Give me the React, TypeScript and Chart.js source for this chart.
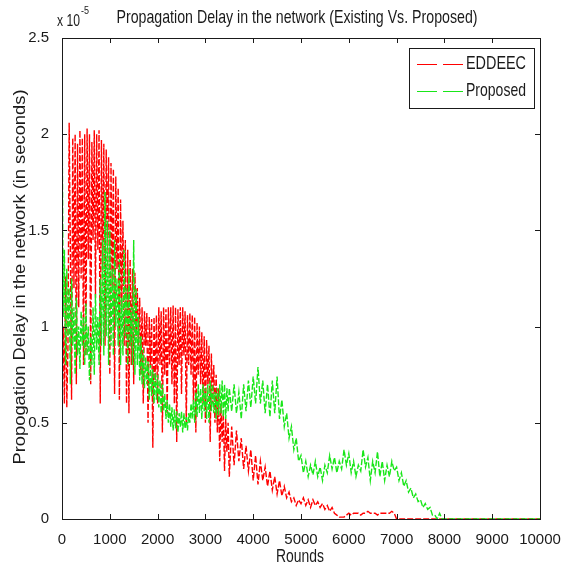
import { useEffect, useRef } from "react";
import { Chart, registerables } from "chart.js";

Chart.register(...registerables);

// ---------- data ----------
// sampling schedule: every 25 rounds up to 3500, then every 50 rounds
const DENSE_STEP = 25;
const DENSE_END = 3500;
const SPARSE_STEP = 50;
const LAST_ROUND = 10000;
const xTicks = [0, 1000, 2000, 3000, 4000, 5000, 6000, 7000, 8000, 9000, 10000];
const yTicks = [0, 0.5, 1, 1.5, 2, 2.5];
const seriesNames = ["EDDEEC", "Proposed"];
const titleText = "Propagation Delay in the network (Existing Vs. Proposed)";
const xLabelText = "Rounds";
const yLabelText = "Propogation Delay in the network (in seconds)";
const yScaleBase = "x 10";
const yScaleExp = "-5";

// values in units of 1e-5 s
const eddeec = [
  // 0 - 3500 every 25 rounds
  0.62, 1.0, 0.6, 1.26, 0.58, 0.9, 2.06, 1.4, 0.62, 1.98,
  1.2, 2.0, 0.7, 1.95, 1.1, 2.02, 1.25, 1.98, 0.8, 2.0,
  0.85, 2.03, 1.35, 2.0, 0.7, 1.96, 1.45, 2.02, 1.15, 2.0,
  1.4, 2.02, 0.6, 1.97, 1.3, 1.95, 0.9, 1.92, 1.45, 1.88,
  0.75, 1.85, 1.2, 1.82, 0.65, 1.78, 1.3, 1.72, 0.62, 1.66,
  1.1, 1.55, 0.9, 1.45, 0.6, 1.4, 0.55, 1.35, 0.8, 1.3,
  0.7, 1.28, 0.95, 1.2, 0.9, 1.15, 0.75, 1.1, 0.6, 1.08,
  0.9, 1.07, 0.5, 1.05, 0.8, 1.04, 0.37, 1.05, 0.7, 1.06,
  0.6, 1.1, 0.8, 1.08, 0.45, 1.1, 0.75, 1.09, 0.55, 1.1,
  0.8, 1.1, 0.7, 1.11, 0.6, 1.1, 0.4, 1.09, 0.8, 1.1,
  0.65, 1.1, 0.85, 1.08, 0.5, 1.06, 0.8, 1.07, 0.75, 1.06,
  0.6, 1.05, 0.45, 1.02, 0.75, 1.0, 0.7, 0.97, 0.6, 0.95,
  0.5, 0.93, 0.7, 0.9, 0.4, 0.86, 0.6, 0.8, 0.5, 0.75,
  0.45, 0.68, 0.3, 0.6, 0.4, 0.55, 0.25, 0.52, 0.35, 0.5,
  0.22,
  // 3550 - 7000 every 50 rounds
  0.48, 0.28, 0.46, 0.3, 0.42, 0.26, 0.38, 0.25, 0.36, 0.2,
  0.33, 0.18, 0.3, 0.2, 0.27, 0.17, 0.25, 0.15, 0.22, 0.13,
  0.2, 0.12, 0.17, 0.11, 0.14, 0.09, 0.11, 0.07, 0.1, 0.08,
  0.11, 0.07, 0.1, 0.06, 0.1, 0.07, 0.09, 0.06, 0.08, 0.05,
  0.07, 0.04, 0.06, 0.03, 0.02, 0.01, 0.01, 0.01, 0.02, 0.03,
  0.02, 0.03, 0.03, 0.03, 0.02, 0.03, 0.03, 0.04, 0.03, 0.03,
  0.03, 0.02, 0.03, 0.03, 0.03, 0.03, 0.03, 0.04, 0.03, 0,
];

const proposed = [
  // 0 - 3500 every 25 rounds
  2.2, 1.05, 1.4, 0.8, 1.3, 0.95, 1.2, 0.7, 1.25, 0.9,
  1.1, 0.75, 1.15, 0.85, 1.0, 0.78, 1.08, 0.9, 1.05, 0.8,
  1.12, 0.85, 1.0, 0.72, 0.95, 0.8, 1.1, 0.75, 1.17, 0.88,
  1.05, 0.8, 1.25, 0.9, 1.45, 0.85, 1.7, 0.95, 1.55, 0.8,
  1.5, 0.9, 1.3, 0.85, 1.45, 1.0, 1.25, 0.9, 1.35, 0.8,
  1.15, 0.85, 1.4, 0.95, 1.2, 0.8, 1.3, 0.9, 1.1, 0.8,
  1.45, 0.75, 1.2, 0.8, 1.05, 0.72, 0.95, 0.7, 0.88, 0.68,
  0.84, 0.7, 0.82, 0.62, 0.8, 0.64, 0.78, 0.6, 0.76, 0.62,
  0.75, 0.58, 0.72, 0.55, 0.7, 0.56, 0.65, 0.52, 0.62, 0.5,
  0.6, 0.48, 0.58, 0.46, 0.57, 0.47, 0.56, 0.45, 0.55, 0.48,
  0.56, 0.45, 0.55, 0.47, 0.53, 0.46, 0.55, 0.5, 0.6, 0.52,
  0.62, 0.5, 0.66, 0.53, 0.7, 0.55, 0.68, 0.52, 0.7, 0.56,
  0.68, 0.52, 0.7, 0.5, 0.72, 0.56, 0.7, 0.55, 0.66, 0.52,
  0.68, 0.54, 0.7, 0.55, 0.72, 0.53, 0.7, 0.52, 0.68, 0.56,
  0.68,
  // 3550 - 8000 every 50 rounds
  0.56, 0.7, 0.55, 0.66, 0.52, 0.7, 0.56, 0.72, 0.58, 0.74,
  0.6, 0.79, 0.6, 0.72, 0.55, 0.7, 0.53, 0.72, 0.55, 0.74,
  0.52, 0.62, 0.48, 0.55, 0.42, 0.48, 0.36, 0.42, 0.3, 0.33,
  0.24, 0.3, 0.22, 0.28, 0.23, 0.3, 0.22, 0.27, 0.2, 0.28,
  0.24, 0.33, 0.26, 0.32, 0.24, 0.3, 0.26, 0.36, 0.28, 0.34,
  0.24, 0.3, 0.22, 0.28, 0.25, 0.36, 0.27, 0.32, 0.2, 0.3,
  0.24, 0.35, 0.22, 0.3, 0.2, 0.28, 0.22, 0.3, 0.25, 0.27,
  0.2, 0.24, 0.17, 0.2, 0.14, 0.16, 0.11, 0.13, 0.09, 0.1,
  0.06, 0.08, 0.05, 0.06, 0.02, 0.02, 0, 0.03, 0, 0,
];

const RED = "#ff0000";
const GREEN = "#19e619";
const INK = "#1a1a1a";
const FONT = "'Liberation Sans', Arial, sans-serif";

function sampleRound(i: number) {
  const denseCount = DENSE_END / DENSE_STEP;
  return i <= denseCount ? i * DENSE_STEP : DENSE_END + (i - denseCount) * SPARSE_STEP;
}

function toPoints(arr: number[]) {
  const pts = arr.map((v, i) => ({ x: sampleRound(i), y: v }));
  // series stays at its last value (zero) until the end of the simulation
  pts.push({ x: LAST_ROUND, y: arr[arr.length - 1] });
  return pts;
}

function drawFitted(
  ctx: CanvasRenderingContext2D,
  text: string,
  x: number,
  y: number,
  size: number,
  width: number,
  align: CanvasTextAlign,
  rotation = 0
) {
  ctx.save();
  ctx.font = `${size}px ${FONT}`;
  const w = ctx.measureText(text).width;
  const sx = width / w;
  ctx.translate(x, y);
  ctx.rotate(rotation);
  ctx.scale(sx, 1);
  ctx.textAlign = align;
  ctx.textBaseline = "middle";
  ctx.fillStyle = INK;
  ctx.fillText(text, 0, 0);
  ctx.restore();
}

const matlabFrame = {
  id: "matlabFrame",
  afterDraw(chart: any) {
    const { ctx, chartArea } = chart;
    const { left, right, top, bottom } = chartArea;
    const xs = chart.scales.x;
    const ys = chart.scales.y;
    ctx.save();
    ctx.strokeStyle = INK;
    ctx.lineWidth = 1;
    ctx.setLineDash([]);
    ctx.strokeRect(Math.round(left) + 0.5, Math.round(top) + 0.5, Math.round(right - left), Math.round(bottom - top));
    ctx.beginPath();
    for (const v of xTicks) {
      const px = Math.round(xs.getPixelForValue(v)) + 0.5;
      ctx.moveTo(px, bottom);
      ctx.lineTo(px, bottom - 5);
      ctx.moveTo(px, top);
      ctx.lineTo(px, top + 5);
    }
    for (const v of yTicks) {
      const py = Math.round(ys.getPixelForValue(v)) + 0.5;
      ctx.moveTo(left, py);
      ctx.lineTo(left + 5, py);
      ctx.moveTo(right, py);
      ctx.lineTo(right - 5, py);
    }
    ctx.stroke();

    // title and axis labels
    drawFitted(ctx, titleText, 297, 18, 19, 361, "center");
    drawFitted(ctx, xLabelText, 300, 557, 18, 48, "center");
    drawFitted(ctx, yLabelText, 20, 277, 17, 375, "center", -Math.PI / 2);
    drawFitted(ctx, yScaleBase, 57, 21, 17, 23, "left");
    drawFitted(ctx, yScaleExp, 81, 11, 11, 8, "left");

    // legend box
    const lx = 409.5, ly = 48.5, lw = 125, lh = 60;
    ctx.fillStyle = "#ffffff";
    ctx.fillRect(lx, ly, lw, lh);
    ctx.strokeStyle = INK;
    ctx.strokeRect(lx, ly, lw, lh);
    const rowsY = [64, 91];
    const colors = [RED, GREEN];
    seriesNames.forEach((name, i) => {
      ctx.save();
      ctx.strokeStyle = colors[i];
      ctx.lineWidth = 1;
      ctx.setLineDash([20, 6]);
      ctx.beginPath();
      ctx.moveTo(417, rowsY[i] + 0.5);
      ctx.lineTo(463, rowsY[i] + 0.5);
      ctx.stroke();
      ctx.restore();
      drawFitted(ctx, name, 466, rowsY[i], 19, 60, "left");
    });
    ctx.restore();
  },
};

export default function App() {
  const ref = useRef<HTMLCanvasElement | null>(null);
  useEffect(() => {
    if (!ref.current) return;
    const chart = new Chart(ref.current, {
      type: "line",
      data: {
        datasets: [
          {
            label: seriesNames[0],
            data: toPoints(eddeec),
            borderColor: RED,
            borderWidth: 1.4,
            borderDash: [6, 2],
            pointRadius: 0,
            tension: 0,
            order: 1,
          },
          {
            label: seriesNames[1],
            data: toPoints(proposed),
            borderColor: GREEN,
            borderWidth: 1.4,
            borderDash: [6, 2],
            pointRadius: 0,
            tension: 0,
            order: 0,
          },
        ],
      },
      options: {
        animation: false,
        responsive: false,
        devicePixelRatio: 1,
        layout: { padding: { top: 38, right: 33, left: 0, bottom: 0 } },
        plugins: { legend: { display: false }, title: { display: false }, tooltip: { enabled: false } },
        scales: {
          x: {
            type: "linear",
            min: 0,
            max: 10000,
            grid: { display: false },
            border: { display: false },
            afterFit: (s: any) => {
              s.height = 52;
            },
            afterBuildTicks: (s: any) => {
              s.ticks = xTicks.map((v) => ({ value: v }));
            },
            ticks: {
              autoSkip: false,
              maxRotation: 0,
              padding: 4,
              color: INK,
              font: { family: FONT, size: 15 },
              callback: (v: any) => String(v),
            },
          },
          y: {
            min: 0,
            max: 2.5,
            grid: { display: false },
            border: { display: false },
            afterFit: (s: any) => {
              s.width = 62;
            },
            afterBuildTicks: (s: any) => {
              s.ticks = yTicks.map((v) => ({ value: v }));
            },
            ticks: {
              padding: 5,
              color: INK,
              font: { family: FONT, size: 15 },
              callback: (v: any) => String(v),
            },
          },
        },
      },
      plugins: [matlabFrame],
    });
    return () => chart.destroy();
  }, []);
  return (
    <div style={{ position: "fixed", left: 0, top: 0, width: 573, height: 571, background: "#fff" }}>
      <canvas ref={ref} width={573} height={571} style={{ display: "block", width: 573, height: 571 }} />
    </div>
  );
}
